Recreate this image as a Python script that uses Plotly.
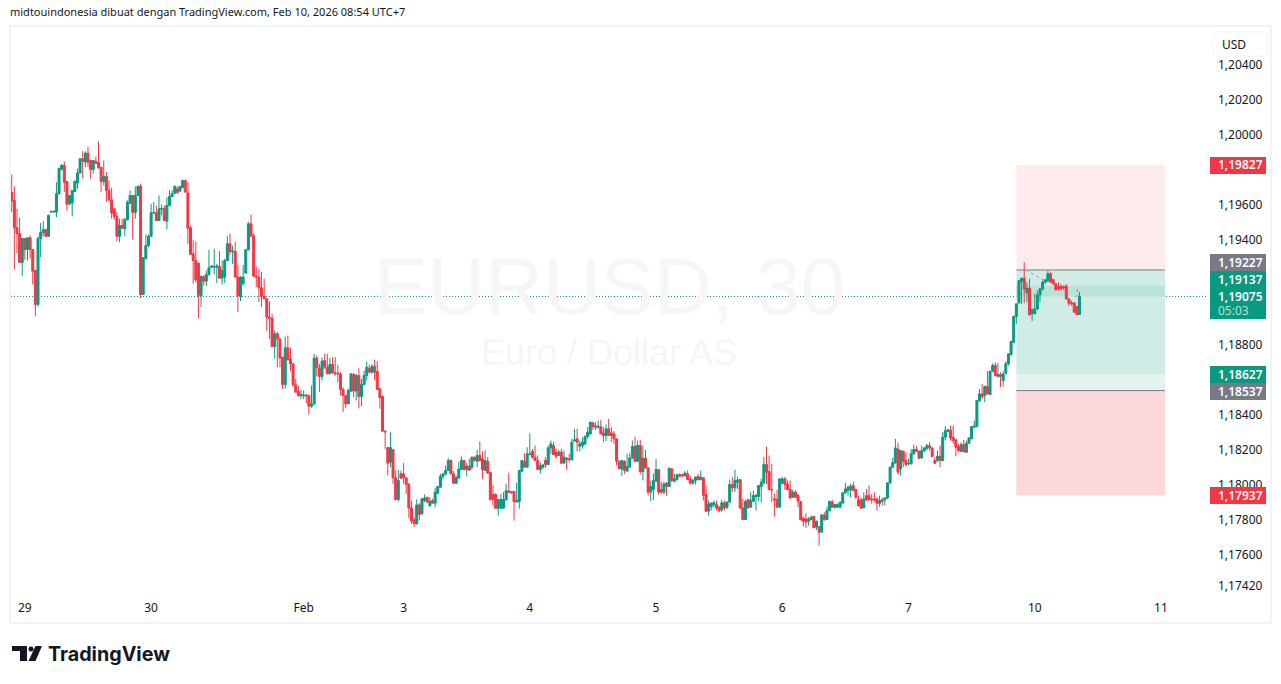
import numpy as np
import plotly.graph_objects as go

# prices in 1e-5 units (119075 = 1,19075), 30-minute EUR/USD bars
opens = [
119670,119625,119468,119434,119270,119407,119344,119411,119344,119224,
119030,119407,119441,119459,119419,119558,119558,119558,119663,119800,
119825,119733,119605,119609,119676,119724,119781,119863,119844,119895,
119853,119802,119848,119842,119815,119733,119762,119682,119628,119577,
119533,119419,119481,119462,119514,119609,119653,119556,119653,119705,
119087,119291,119367,119419,119552,119554,119510,119575,119577,119506,
119596,119647,119666,119691,119678,119697,119739,119668,119468,119319,
119281,119266,119081,119190,119163,119201,119243,119243,119243,119247,
119180,119186,119281,119377,119329,119333,119186,119075,119148,119209,
119342,119491,119422,119192,119186,119125,119077,119062,118957,118950,
118789,118862,118833,118728,118572,118782,118719,118690,118570,118532,
118507,118507,118511,118509,118448,118461,118723,118667,118618,118709,
118671,118633,118686,118639,118637,118633,118543,118509,118461,118534,
118629,118534,118623,118503,118572,118623,118665,118642,118675,118646,
118547,118503,118305,118211,118128,118198,118038,117914,118061,118061,
118038,118000,117866,117798,117775,117883,117832,117908,117927,117878,
117908,117893,117950,117984,118046,118061,118080,118137,118061,118007,
118036,118086,118137,118086,118105,118099,118156,118133,118166,118147,
118080,118133,118068,117943,117943,117864,117864,117864,117912,117962,
117960,117960,117899,117902,118076,118131,118099,118171,118189,118156,
118137,118084,118099,118137,118114,118209,118223,118185,118166,118185,
118122,118150,118147,118141,118248,118261,118219,118223,118232,118274,
118289,118352,118335,118328,118331,118295,118280,118318,118295,118289,
118261,118133,118089,118133,118076,118099,118152,118217,118133,118223,
118074,118150,118095,117956,117971,118019,118085,117971,117956,118007,
117988,118089,118019,118028,118055,118057,118049,118061,118032,118007,
118023,118045,118028,118038,117942,117847,117874,117885,117885,117870,
117855,117895,117870,117899,118000,117981,118013,118028,117866,117799,
117914,117870,117904,117931,117931,117988,118009,118114,118074,117971,
117918,117914,117870,118007,118032,118003,117971,117927,117956,117937,
117902,117807,117803,117790,117798,117817,117756,117759,117727,117826,
117799,117850,117900,117870,117870,117870,117894,117952,117965,117969,
117994,117971,117913,117912,117866,117936,117936,117917,117917,117917,
117892,117912,117912,117923,118009,118098,118123,118203,118089,118190,
118137,118118,118118,118175,118200,118190,118152,118194,118207,118222,
118209,118137,118137,118161,118137,118270,118304,118312,118270,118255,
118217,118188,118228,118184,118236,118261,118327,118331,118480,118518,
118508,118560,118514,118648,118680,118619,118629,118594,118636,118690,
118743,118813,118960,119039,119161,119180,119096,119122,118976,118976,
119004,119084,119119,119157,119166,119205,119172,119147,119132,119132,
119132,119134,119061,119039,119039,119018,118972,
]
highs = [
119773,119705,119577,119525,119407,119407,119415,119424,119344,119224,
119419,119495,119506,119459,119544,119564,119567,119729,119811,119834,
119848,119733,119653,119682,119739,119806,119863,119905,119905,119933,
119857,119853,119876,119962,119815,119853,119787,119739,119697,119577,
119558,119520,119520,119525,119625,119682,119653,119705,119710,119720,
119300,119430,119430,119605,119615,119596,119653,119602,119596,119644,
119682,119682,119710,119705,119705,119743,119743,119729,119481,119396,
119390,119266,119195,119195,119224,119342,119253,119348,119262,119335,
119281,119291,119422,119434,119367,119386,119256,119192,119256,119348,
119501,119544,119438,119247,119234,119215,119176,119062,119047,118976,
118881,118871,118833,118728,118846,118852,118782,118690,118604,118566,
118541,118538,118518,118509,118566,118747,118738,118690,118728,118747,
118747,118723,118728,118728,118684,118642,118557,118509,118547,118633,
118637,118633,118665,118604,118652,118703,118684,118690,118713,118705,
118551,118509,118309,118213,118299,118204,118080,118084,118080,118124,
118042,118009,117908,117813,117914,117893,117918,117943,117927,117927,
117918,117981,117988,118061,118065,118108,118150,118141,118076,118051,
118128,118160,118137,118122,118147,118160,118160,118198,118246,118189,
118194,118156,118074,117998,117950,117918,117946,117956,118004,118067,
117960,117960,118009,118080,118137,118179,118213,118293,118204,118223,
118166,118127,118118,118156,118223,118251,118242,118204,118198,118204,
118194,118156,118175,118261,118318,118318,118248,118270,118280,118328,
118360,118360,118356,118366,118370,118328,118343,118375,118328,118305,
118261,118137,118141,118137,118175,118179,118251,118274,118251,118255,
118223,118198,118099,118023,118061,118146,118089,118013,118017,118013,
118095,118095,118061,118061,118064,118061,118076,118080,118051,118032,
118045,118061,118080,118042,117994,117908,117899,117908,117908,117879,
117912,117908,117904,118028,118042,118084,118045,118028,117918,117912,
117918,117956,117965,117946,117994,118032,118156,118217,118166,118118,
117946,117969,118032,118042,118042,118023,118023,117971,117969,117946,
117904,117817,117836,117813,117822,117817,117794,117759,117831,117841,
117873,117904,117913,117889,117892,117904,117955,118009,117994,118003,
118016,117974,117936,117927,117955,117974,117994,117946,117955,117927,
117936,117923,117927,118013,118104,118152,118261,118241,118194,118194,
118184,118146,118203,118228,118222,118194,118222,118213,118232,118241,
118213,118156,118194,118222,118299,118333,118318,118337,118337,118261,
118232,118241,118255,118251,118270,118331,118365,118480,118547,118575,
118566,118648,118648,118693,118699,118693,118642,118648,118705,118747,
118823,118966,119033,119170,119180,119271,119157,119176,119004,119090,
119109,119119,119166,119176,119223,119214,119176,119153,119157,119147,
119138,119147,119065,119052,119042,119020,119100,
]
lows = [
119558,119230,119323,119270,119192,119285,119281,119291,119144,118961,
119018,119300,119419,119419,119419,119552,119556,119529,119659,119800,
119672,119567,119596,119533,119676,119691,119777,119752,119815,119815,
119748,119777,119834,119806,119672,119710,119615,119615,119520,119514,
119390,119386,119462,119419,119510,119605,119401,119520,119653,119066,
119085,119291,119358,119419,119548,119506,119510,119539,119506,119459,
119590,119644,119663,119663,119672,119697,119672,119377,119316,119148,
119157,118951,119014,119138,119134,119195,119239,119201,119152,119176,
119144,119152,119277,119310,119262,119186,118986,119049,119138,119205,
119338,119434,119186,119129,119043,119014,119062,118877,118833,118785,
118719,118671,118671,118547,118547,118709,118648,118557,118528,118503,
118490,118490,118465,118400,118438,118452,118618,118528,118595,118661,
118633,118633,118633,118623,118585,118509,118414,118436,118461,118528,
118499,118480,118436,118448,118566,118595,118637,118633,118595,118543,
118433,118305,118204,118051,118099,118004,117908,117902,118032,118004,
117946,117809,117775,117756,117771,117794,117828,117899,117893,117874,
117893,117870,117946,117981,118032,118051,118076,118057,118004,118004,
118036,118089,118080,118047,118080,118086,118131,118099,118131,118032,
118080,118061,117908,117880,117861,117822,117861,117861,117908,117950,
117946,117794,117899,117861,118076,118099,118099,118171,118147,118137,
118086,118061,118089,118095,118118,118175,118171,118147,118162,118118,
118122,118085,118127,118137,118246,118190,118188,118204,118223,118261,
118286,118312,118312,118318,118289,118242,118248,118280,118242,118232,
118108,118089,118047,118061,118074,118099,118146,118127,118127,118057,
118023,118089,117937,117904,117912,118023,117942,117946,117946,117937,
117988,118013,118013,118023,118042,118045,118047,118026,118000,118000,
118000,118023,118023,117908,117847,117822,117851,117870,117851,117841,
117841,117851,117860,117895,117956,117956,117975,117860,117799,117799,
117860,117870,117899,117851,117908,117899,118003,118003,117965,117899,
117817,117866,117870,118007,117969,117965,117918,117923,117923,117870,
117794,117759,117752,117765,117798,117752,117740,117651,117727,117793,
117797,117847,117866,117860,117866,117870,117889,117946,117936,117927,
117965,117917,117873,117860,117866,117904,117912,117889,117898,117851,
117873,117879,117879,117917,118003,118098,118118,118057,118051,118098,
118102,118108,118114,118171,118184,118146,118146,118184,118194,118194,
118156,118121,118127,118098,118133,118251,118299,118251,118232,118161,
118184,118188,118184,118184,118232,118261,118327,118327,118470,118489,
118470,118514,118514,118642,118617,118610,118556,118560,118629,118680,
118737,118808,118918,119033,119033,119037,119042,118966,118934,118976,
118998,119042,119109,119147,119157,119157,119143,119109,119109,119109,
119113,119060,119020,119023,118985,118966,118972,
]
closes = [
119621,119468,119434,119270,119407,119344,119411,119344,119220,119030,
119407,119441,119457,119419,119539,119562,119562,119663,119808,119825,
119729,119602,119653,119682,119733,119781,119863,119848,119895,119844,
119802,119853,119836,119811,119733,119762,119682,119628,119552,119533,
119419,119481,119466,119516,119615,119653,119556,119653,119705,119087,
119297,119367,119419,119554,119556,119510,119577,119579,119510,119596,
119647,119663,119705,119670,119705,119739,119672,119466,119316,119281,
119171,119081,119190,119163,119201,119239,119249,119247,119249,119180,
119224,119281,119377,119333,119335,119186,119081,119186,119186,119342,
119491,119420,119192,119186,119125,119077,119062,118957,118950,118789,
118862,118833,118724,118572,118782,118713,118690,118570,118528,118509,
118515,118511,118507,118448,118461,118723,118667,118618,118705,118671,
118633,118686,118639,118633,118633,118543,118509,118461,118538,118633,
118534,118623,118503,118572,118623,118671,118642,118675,118642,118543,
118496,118305,118301,118122,118211,118038,117914,118023,118036,118038,
118000,117866,117790,117775,117883,117828,117918,117923,117899,117904,
117893,117956,117988,118046,118061,118080,118137,118061,118007,118038,
118089,118137,118086,118105,118082,118156,118137,118166,118137,118084,
118137,118065,117914,117914,117864,117914,117914,117914,117965,117956,
117956,117902,117908,118080,118137,118099,118175,118175,118156,118137,
118086,118108,118112,118114,118209,118232,118171,118162,118185,118122,
118156,118143,118143,118242,118255,118242,118232,118242,118274,118299,
118356,118331,118328,118333,118289,118280,118318,118280,118280,118261,
118133,118089,118137,118080,118103,118152,118217,118133,118223,118074,
118150,118095,117956,117988,118023,118085,117956,117956,118003,117988,
118093,118023,118032,118057,118047,118049,118065,118028,118007,118023,
118042,118028,118042,117937,117847,117889,117893,117897,117866,117851,
117895,117866,117899,118000,117981,118023,118026,117866,117799,117902,
117868,117908,117937,117937,117994,118013,118114,118070,117971,117969,
117912,117870,118032,118032,118000,117971,117923,117956,117927,117904,
117798,117790,117784,117803,117813,117752,117790,117727,117826,117799,
117850,117904,117870,117885,117885,117898,117952,117974,117984,117990,
117965,117927,117879,117864,117917,117913,117913,117912,117912,117892,
117908,117904,117923,118009,118098,118125,118209,118070,118194,118133,
118114,118121,118175,118200,118190,118150,118194,118209,118222,118209,
118160,118121,118161,118137,118270,118308,118312,118266,118251,118213,
118194,118228,118188,118236,118266,118331,118333,118480,118518,118503,
118560,118518,118648,118680,118623,118629,118617,118632,118690,118747,
118817,118960,119033,119166,119180,119119,119122,118970,119002,119004,
119084,119119,119157,119170,119205,119157,119147,119115,119119,119119,
119124,119061,119037,119033,118985,118972,119075,
]

day_ticks = [5, 53, 111, 149, 197, 245, 293, 341, 389, 437]
day_labels = ["29", "30", "Feb", "3", "4", "5", "6", "7", "10", "11"]
price_ticks = [1.204, 1.202, 1.200, 1.196, 1.194, 1.188, 1.184, 1.182, 1.180, 1.178, 1.176, 1.1742]
price_labels = ["1,20400", "1,20200", "1,20000", "1,19600", "1,19400", "1,18800",
                "1,18400", "1,18200", "1,18000", "1,17800", "1,17600", "1,17420"]

target_short, entry_short, stop_long = 1.19827, 1.19227, 1.17937
target_long, entry_long, last_price, avg_price = 1.18627, 1.18537, 1.19075, 1.19137
box_start, box_end = 382, 438.5

assert len(opens) == len(highs) == len(lows) == len(closes), (len(opens), len(highs), len(lows), len(closes))

O, H, L, C = [np.array(a) / 1e5 for a in (opens, highs, lows, closes)]
X = np.arange(len(O))

UP, DOWN = "#089981", "#F23645"
TEXT = "#131722"
FONT = "Noto Sans"
W, H_PX = 1281, 684
ML, MR, MT, MB = 11, 74, 25, 88
PW, PH = W - ML - MR, H_PX - MT - MB


def px(x):
    return (x - ML) / PW


def py(y):
    return 1 - (y - MT) / PH


def rect(x0, x1, y0, y1, fill, **kw):
    return dict(type="rect", xref="paper", yref="paper", x0=px(x0), x1=px(x1), y0=py(y0), y1=py(y1),
                fillcolor=fill, line=dict(width=0), layer="above", **kw)


def box(y0, y1, fill):
    return dict(type="rect", xref="x", yref="y", x0=box_start, x1=box_end, y0=y0, y1=y1,
                fillcolor=fill, line=dict(width=0), layer="below")


def hline(y, color, dash="solid", x0=box_start, x1=box_end, xref="x"):
    return dict(type="line", xref=xref, yref="y", x0=x0, x1=x1, y0=y, y1=y,
                line=dict(color=color, width=1, dash=dash), layer="below")


def dash_seg(x0, y0, x1, y1):
    return dict(type="line", xref="paper", yref="paper", x0=px(x0), x1=px(x1), y0=py(y0), y1=py(y1),
                line=dict(color="#9598a1", width=1, dash="3px,3px"), layer="above")


fig = go.Figure(go.Candlestick(
    x=X, open=O, high=H, low=L, close=C,
    increasing=dict(line=dict(color=UP, width=1), fillcolor=UP),
    decreasing=dict(line=dict(color=DOWN, width=1), fillcolor=DOWN),
    whiskerwidth=0, showlegend=False,
))

shapes = [
    box(entry_short, target_short, "#feecec"),
    box(target_long, entry_short, "#d0ece6"),
    box(entry_long, target_long, "#e5f3f0"),
    box(stop_long, entry_long, "#fad8dc"),
    box(last_price, avg_price, "#b9e2d9"),
    hline(entry_short, "#787b86"),
    hline(entry_long, "#787b86"),
    hline(last_price, UP, "1px,2px", 0, 1, "paper"),
    dash_seg(1026, 270, 1045, 281),
    dash_seg(1075, 297, 1079, 294),
    dash_seg(1077, 289, 1078, 292),
    # frame
    dict(type="rect", xref="paper", yref="paper", x0=px(10), x1=px(1271), y0=py(26), y1=py(623),
         line=dict(color="#f0f3fa", width=2), layer="above"),
    # USD button
    dict(type="path", xref="paper", yref="paper", layer="above", fillcolor="#ffffff",
         line=dict(color="#f0f3fa", width=1),
         path="M {} {} L {} {} Q {} {} {} {} L {} {} Q {} {} {} {} L {} {} Q {} {} {} {} L {} {} Q {} {} {} {} Z".format(
             px(1216), py(32), px(1264), py(32), px(1267), py(32), px(1267), py(35),
             px(1267), py(53), px(1267), py(56), px(1264), py(56),
             px(1216), py(56), px(1213), py(56), px(1213), py(53),
             px(1213), py(35), px(1213), py(32), px(1216), py(32))),
    # price labels
    rect(1210, 1266, 157, 174, DOWN),
    rect(1210, 1266, 254, 271, "#787b86"),
    rect(1210, 1266, 271, 319, UP),
    rect(1210, 1266, 366, 383, UP),
    rect(1210, 1266, 383, 400, "#787b86"),
    rect(1210, 1266, 487, 504, DOWN),
    # logo
    dict(type="path", xref="paper", yref="paper", layer="above", fillcolor="#131722", line=dict(width=0),
         path="M {} {} L {} {} L {} {} L {} {} L {} {} L {} {} Z".format(
             px(12), py(646), px(27), py(646), px(27), py(661), px(20), py(661), px(20), py(651), px(12), py(651))),
    dict(type="circle", xref="paper", yref="paper", layer="above", fillcolor="#131722", line=dict(width=0),
         x0=px(28.5), x1=px(33.5), y0=py(646.5), y1=py(651.5)),
    dict(type="path", xref="paper", yref="paper", layer="above", fillcolor="#131722", line=dict(width=0),
         path="M {} {} L {} {} L {} {} L {} {} Z".format(
             px(35.5), py(646), px(42), py(646), px(35.5), py(661), px(28.5), py(661))),
]


def note(x, y, text, size=12, color=TEXT, anchor="left", family=FONT, weight=None, **kw):
    font = dict(family=family, size=size, color=color)
    if weight:
        font["weight"] = weight
    return dict(xref="paper", yref="paper", x=px(x), y=py(y), text=text, showarrow=False, xanchor=anchor,
                yanchor="middle", font=font, **kw)


annotations = [
    note(8, 11, "midtouindonesia dibuat dengan TradingView.com, Feb 10, 2026 08:54 UTC+7", 11),
    note(609, 286, "EURUSD, 30", 80, "#f6f6f8", "center", "Liberation Sans"),
    note(609, 352, "Euro / Dollar AS", 36, "#f6f6f8", "center", "Liberation Sans"),
    note(1220, 44, "USD", 12),
    note(1216, 165, "1,19827", 12, "#ffffff", weight=600),
    note(1216, 262, "1,19227", 12, "#ffffff", weight=600),
    note(1216, 279, "1,19137", 12, "#ffffff", weight=600),
    note(1216, 296, "1,19075", 12, "#ffffff", weight=600),
    note(1216, 310, "05:03", 12, "#b4e2d8"),
    note(1216, 374, "1,18627", 12, "#ffffff", weight=600),
    note(1216, 391, "1,18537", 12, "#ffffff", weight=600),
    note(1216, 495, "1,17937", 12, "#ffffff", weight=600),
    note(46, 654, "<b>TradingView</b>", 19.7, "#131722", family="Inter"),
]

fig.update_layout(
    width=W, height=H_PX, autosize=False,
    margin=dict(l=ML, r=MR, t=MT, b=MB),
    paper_bgcolor="#ffffff", plot_bgcolor="#ffffff",
    font=dict(family=FONT, size=12, color=TEXT),
    shapes=shapes, annotations=annotations, hovermode=False,
    boxgap=0.25, boxgroupgap=0,
    xaxis=dict(range=[-0.27, 454.5], rangeslider=dict(visible=False), tickmode="array",
               tickvals=day_ticks, ticktext=day_labels, showgrid=False, zeroline=False, showline=False,
               ticks="", ticklabelstandoff=3, tickangle=0, tickfont=dict(family=FONT, size=12, color=TEXT)),
    yaxis=dict(range=[1.17362, 1.20628], side="right", tickmode="array", tickvals=price_ticks,
               ticktext=price_labels, showgrid=False, zeroline=False, showline=False, ticks="",
               ticklabelstandoff=10, tickfont=dict(family=FONT, size=12, color=TEXT)),
)

fig.write_html("out.html", config=dict(displayModeBar=False),
               post_script="document.body.style.margin='0';")
